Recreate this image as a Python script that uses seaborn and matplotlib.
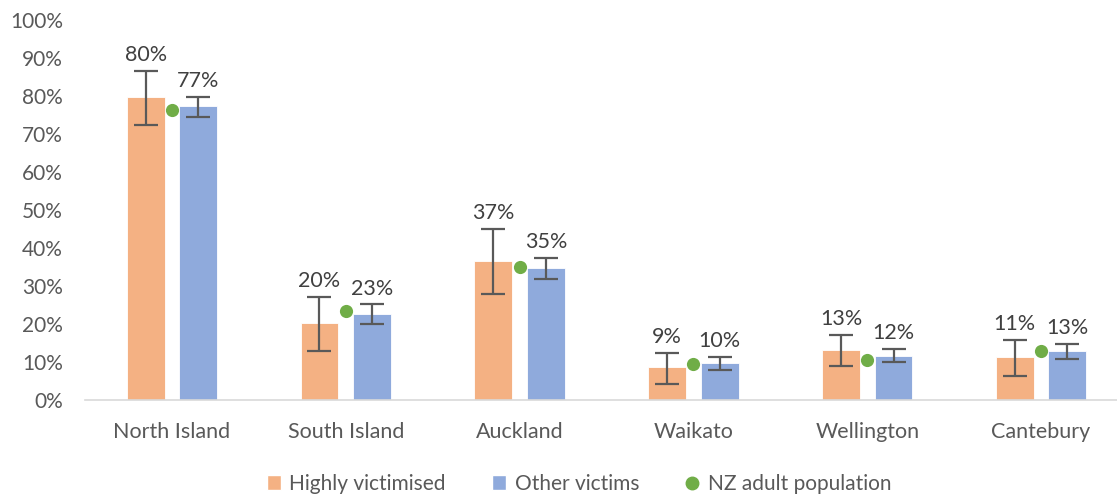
import numpy as np
import pandas as pd
import matplotlib
matplotlib.use("Agg")
import matplotlib.pyplot as plt
from matplotlib.lines import Line2D
from matplotlib.patches import Patch
import seaborn as sns

# values (fractions)
regions = ['North Island', 'South Island', 'Auckland', 'Waikato', 'Wellington', 'Cantebury']
highly = [0.798, 0.202, 0.366, 0.086, 0.132, 0.112]
highly_lo = [0.724, 0.130, 0.279, 0.043, 0.090, 0.063]
highly_hi = [0.867, 0.272, 0.450, 0.125, 0.172, 0.159]
other = [0.774, 0.227, 0.347, 0.098, 0.117, 0.128]
other_lo = [0.746, 0.200, 0.318, 0.079, 0.099, 0.108]
other_hi = [0.797, 0.252, 0.374, 0.114, 0.134, 0.148]
nz_pop = [0.762, 0.235, 0.349, 0.094, 0.105, 0.129]
series = ['Highly victimised', 'Other victims']

orange = '#F4B183'
blue = '#8FAADC'
green = '#70AD47'
txt = '#404040'

sns.set_style('white')
plt.rcParams['font.family'] = ['Lato', 'DejaVu Sans']

df = pd.DataFrame({
    'region': regions * 2,
    'group': [series[0]] * len(regions) + [series[1]] * len(regions),
    'value': highly + other,
})

fig = plt.figure(figsize=(11.17, 4.95), dpi=100)
ax = fig.add_axes([85 / 1117, 95 / 495, 1043 / 1117, 380 / 495])

sns.barplot(data=df, x='region', y='value', hue='group', order=regions,
            hue_order=series, palette=[orange, blue], width=0.605, gap=0.28,
            saturation=1, legend=False, ax=ax, edgecolor='white', linewidth=0.6)

# error bars + labels, positioned from the bars seaborn drew
bar_sets = list(ax.containers)[:2]
lows = [highly_lo, other_lo]
highs = [highly_hi, other_hi]
vals = [highly, other]
for k, cont in enumerate(bar_sets):
    for i, bar in enumerate(cont):
        xc = bar.get_x() + bar.get_width() / 2
        v = vals[k][i]
        ax.errorbar(xc, v, yerr=[[v - lows[k][i]], [highs[k][i] - v]],
                    fmt='none', ecolor='#595959', elinewidth=1.6, capsize=8.5,
                    capthick=1.6, zorder=4)
        ax.annotate(f'{round(v * 100):.0f}%', (xc, highs[k][i]), xytext=(0, 7),
                    textcoords='offset points', ha='center', va='baseline',
                    fontsize=15.5, color=txt)

ax.scatter(np.arange(len(regions)), nz_pop, s=90, color=green, zorder=5,
           linewidths=0)

ax.set_ylim(0, 1)
ax.set_xlim(-0.5, len(regions) - 0.5)
ax.set_yticks(np.arange(0, 1.01, 0.1))
ax.set_yticklabels([f'{int(t)}%' for t in np.arange(0, 101, 10)])
ax.set_xlabel('')
ax.set_ylabel('')
ax.tick_params(axis='both', length=0, labelsize=15, labelcolor='#595959')
ax.tick_params(axis='x', labelsize=15.5, pad=16)
ax.tick_params(axis='y', pad=16)
for s in ['top', 'right', 'left']:
    ax.spines[s].set_visible(False)
ax.spines['bottom'].set_color('#D9D9D9')
ax.spines['bottom'].set_linewidth(1.2)
ax.grid(False)

handles = [Patch(facecolor=orange, label=series[0]),
           Patch(facecolor=blue, label=series[1]),
           Line2D([], [], marker='o', linestyle='none', color=green,
                  markersize=9, label='NZ adult population')]
fig.legend(handles=handles, loc='center', bbox_to_anchor=(579 / 1117, 1 - 484 / 495),
           ncol=3, frameon=False, fontsize=15, handlelength=0.7, handleheight=0.7,
           handletextpad=0.4, columnspacing=2.2, labelcolor='#595959')

fig.savefig('out.png', dpi=100)
